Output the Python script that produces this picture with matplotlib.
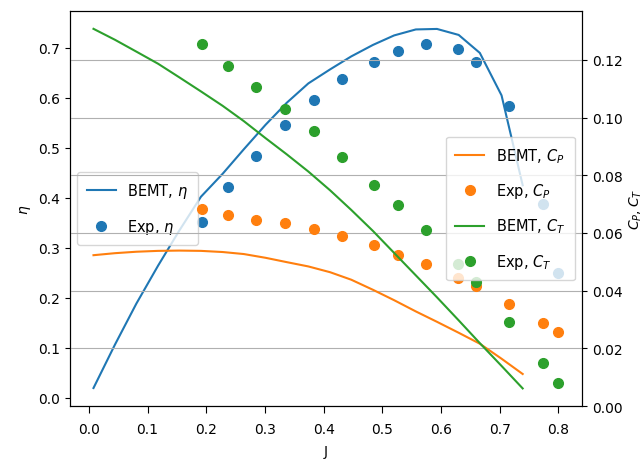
import matplotlib
matplotlib.use('Agg')
import matplotlib.pyplot as plt

# BEMT prediction
J_bemt = [0.008, 0.0446, 0.081, 0.118, 0.154, 0.191, 0.228, 0.264, 0.301, 0.337, 0.374,
          0.411, 0.447, 0.484, 0.520, 0.557, 0.593, 0.630, 0.666, 0.703, 0.739]
eta_bemt = [0.019, 0.106, 0.188, 0.264, 0.334, 0.402, 0.448, 0.497, 0.546, 0.590, 0.629,
            0.657, 0.683, 0.706, 0.725, 0.737, 0.738, 0.726, 0.690, 0.605, 0.425]
cp_bemt = [0.0523, 0.0530, 0.0535, 0.0538, 0.0539, 0.0538, 0.0534, 0.0527, 0.0514, 0.0499, 0.0484,
           0.0464, 0.0438, 0.0403, 0.0367, 0.0328, 0.0292, 0.0254, 0.0216, 0.0164, 0.0111]
ct_bemt = [0.1308, 0.1270, 0.1229, 0.1187, 0.1140, 0.1091, 0.1041, 0.0988, 0.0929, 0.0873, 0.0813,
           0.0748, 0.0680, 0.0607, 0.0531, 0.0453, 0.0377, 0.0297, 0.0218, 0.0139, 0.0061]

# experiment
J_exp = [0.193, 0.237, 0.284, 0.335, 0.384, 0.431, 0.486, 0.527, 0.574, 0.629, 0.660, 0.716, 0.773, 0.800]
eta_exp = [0.352, 0.422, 0.484, 0.545, 0.596, 0.638, 0.671, 0.693, 0.708, 0.697, 0.672, 0.584, 0.387, 0.249]
cp_exp = [0.0682, 0.0664, 0.0645, 0.0633, 0.0614, 0.0589, 0.0557, 0.0525, 0.0494, 0.0444, 0.0415, 0.0355, 0.0288, 0.0256]
ct_exp = [0.1256, 0.1180, 0.1108, 0.1030, 0.0954, 0.0865, 0.0766, 0.0696, 0.0609, 0.0493, 0.0429, 0.0292, 0.0148, 0.0079]

leg_kw = dict(fontsize=10.5, labelspacing=1.14, borderpad=0.64)

fig, ax1 = plt.subplots(figsize=(6.44, 4.6), dpi=100)
fig.subplots_adjust(left=0.1087, right=0.9037, top=0.974, bottom=0.1152)

ax1.plot(J_bemt, eta_bemt, color='C0', label=r'BEMT, $\eta$')
ax1.plot(J_exp, eta_exp, 'o', ms=7, color='C0', label=r'Exp, $\eta$')
ax1.set_xlabel('J', labelpad=5.5)
ax1.set_ylabel(r'$\eta$')
ax1.set_xlim(-0.032, 0.84)
ax1.set_ylim(-0.017, 0.774)
ax1.tick_params(axis='x', pad=6.5, length=5)
ax1.legend(loc='center left', **leg_kw)

ax2 = ax1.twinx()
ax2.plot(J_bemt, cp_bemt, color='C1', label=r'BEMT, $C_P$')
ax2.plot(J_exp, cp_exp, 'o', ms=7, color='C1', label=r'Exp, $C_P$')
ax2.plot(J_bemt, ct_bemt, color='C2', label=r'BEMT, $C_T$')
ax2.plot(J_exp, ct_exp, 'o', ms=7, color='C2', label=r'Exp, $C_T$')
ax2.set_ylabel(r'$C_P, C_T$')
ax2.set_ylim(0, 0.137)
ax2.grid(True)
ax2.legend(loc='center right', **leg_kw)

fig.savefig('out.png', dpi=100)
